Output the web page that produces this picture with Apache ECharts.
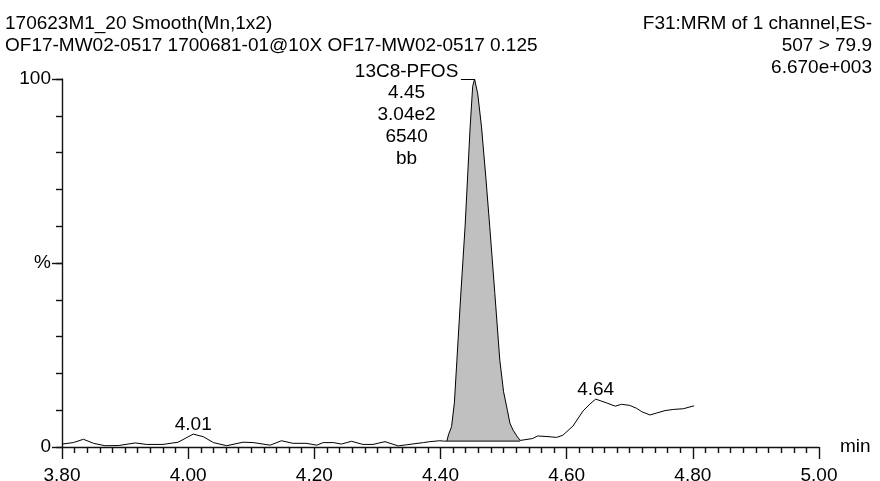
<!DOCTYPE html>
<html><head><meta charset="utf-8">
<script src="https://cdn.jsdelivr.net/npm/echarts@6/dist/echarts.min.js"></script>
<style>html,body{margin:0;padding:0;background:#fff}#c{width:880px;height:481px}</style>
</head><body><div id="c"></div>
<script>
// ---- data ----
const headerLeft = ['170623M1_20 Smooth(Mn,1x2)', 'OF17-MW02-0517 1700681-01@10X OF17-MW02-0517 0.125'];
const headerRight = ['F31:MRM of 1 channel,ES-', '507 > 79.9', '6.670e+003'];

const traceTime = [3.800,3.818,3.834,3.850,3.868,3.890,3.916,3.934,3.960,3.984,4.008,4.024,4.040,4.061,4.087,4.103,4.130,4.148,4.166,4.187,4.204,4.214,4.230,4.243,4.259,4.277,4.293,4.312,4.333,4.346,4.373,4.383,4.399,4.405,
  4.410,4.413,4.4175,4.422,4.426,4.432,4.439,4.447,4.451,4.454,4.459,4.465,4.472,4.478,4.486,4.494,4.500,4.506,4.510,4.515,4.521,4.526,
  4.531,4.546,4.554,4.572,4.584,4.594,4.610,4.626,4.637,4.646,4.653,4.663,4.677,4.687,4.700,4.711,4.719,4.732,4.742,4.756,4.769,4.785,4.802];
const traceIntensity = [0.8,1.2,2.1,1.0,0.35,0.4,1.1,0.7,0.7,1.3,3.5,2.8,1.2,0.35,1.3,1.2,0.5,1.7,1.0,1.0,0.5,1.2,1.2,0.8,1.55,0.7,0.7,1.45,0.3,0.6,1.2,1.45,1.7,1.6,
  1.6,3.5,5.5,12,23.6,41,60,87,98,100,96,87,73,60,42,23.6,15,10,6.5,4.6,3.0,1.8,
  1.9,2.3,3.0,2.8,2.6,3.2,5.7,9.8,11.7,13.0,12.6,12.0,11.1,11.6,11.3,10.5,9.6,8.7,9.2,9.9,10.2,10.4,11.2];

const integrationStart = 4.410;
const integrationEnd = 4.526;
const integrationBaseline = 1.6;

const minorPeakTimes = [4.008, 4.646];
const minorPeakLabels = ['4.01', '4.64'];
const mainPeakTime = 4.454;
const mainPeakLines = ['13C8-PFOS', '4.45', '3.04e2', '6540', 'bb'];
const leaderStartTime = 4.4323;

const xMin = 3.8, xMax = 5.0, xMajorStep = 0.2, xMinorPerMajor = 10;
const yMajorLabels = {0: '0', 50: '%', 100: '100'};
const xAxisName = 'min';

// ---- build ----
const FONT = 'Liberation Sans, Arial, Helvetica, sans-serif';
const FS = 19;
const trace = traceTime.map((t, i) => [t, traceIntensity[i]]);
const peakArea = trace.filter(p => p[0] >= integrationStart - 1e-9 && p[0] <= integrationEnd + 1e-9);
const valueAt = t => traceIntensity[traceTime.indexOf(t)];

const txt = {fontSize: FS, fontWeight: 'normal', color: '#000', fontFamily: FONT};
const titles = [];
headerLeft.forEach((s, i) => titles.push({text: s, left: 5, top: 14 + i * 22, padding: 0, textStyle: txt}));
headerRight.forEach((s, i) => titles.push({text: s, right: 8, top: 14 + i * 22, padding: 0, textStyle: txt}));

const black = {color: '#000', width: 1};
const axisInk = {color: '#111', width: 1.4};
const chart = echarts.init(document.getElementById('c'), null, {renderer: 'canvas'});
chart.setOption({
  animation: false,
  backgroundColor: '#fff',
  title: titles,
  grid: {left: 62, right: 61, top: 79, bottom: 34, containLabel: false, outerBoundsMode: 'none'},
  xAxis: {
    type: 'value', min: xMin, max: xMax, interval: xMajorStep,
    axisLine: {show: true, onZero: false, lineStyle: axisInk},
    axisTick: {show: true, length: 12, lineStyle: axisInk},
    minorTick: {show: true, splitNumber: xMinorPerMajor, length: 6, lineStyle: axisInk},
    splitLine: {show: false}, minorSplitLine: {show: false},
    axisLabel: {formatter: v => v.toFixed(2), margin: 19, fontSize: FS, color: '#000', fontFamily: FONT},
    name: xAxisName, nameLocation: 'end', nameGap: 21,
    nameTextStyle: {fontSize: FS, color: '#000', fontFamily: FONT, align: 'left', verticalAlign: 'middle', padding: [12, 0, 0, 0]}
  },
  yAxis: [
    {
      type: 'value', min: 0, max: 100, interval: 10, position: 'left',
      axisLine: {show: true, lineStyle: axisInk},
      axisTick: {show: true, length: 6, lineStyle: axisInk},
      axisLabel: {show: false}, splitLine: {show: false}
    },
    {
      type: 'value', min: 0, max: 100, interval: 50, position: 'left',
      axisLine: {show: false},
      axisTick: {show: true, length: 10, lineStyle: axisInk},
      axisLabel: {formatter: v => yMajorLabels[v] || '', margin: 11, fontSize: FS, color: '#000', fontFamily: FONT},
      splitLine: {show: false}
    }
  ],
  series: [
    {
      type: 'line', data: peakArea, symbol: 'none', silent: true, z: 1,
      lineStyle: {width: 0},
      areaStyle: {color: '#c0c0c0', opacity: 1, origin: integrationBaseline}
    },
    {
      type: 'line', data: [[integrationStart, integrationBaseline], [integrationEnd, integrationBaseline]],
      symbol: 'none', silent: true, z: 2, lineStyle: black
    },
    {
      type: 'line', data: trace, symbol: 'none', silent: true, z: 3, lineStyle: black,
      markPoint: {
        symbol: 'circle', symbolSize: 0, silent: true,
        data: minorPeakTimes.map((t, i) => ({
          coord: [t, valueAt(t)], name: minorPeakLabels[i],
          label: {show: true, position: 'top', distance: 0, formatter: '{b}', fontSize: FS, color: '#000', fontFamily: FONT}
        })).concat([{
          coord: [mainPeakTime, valueAt(mainPeakTime)], name: mainPeakLines.join('\n'),
          label: {show: true, position: 'inside', offset: [-68, 36], align: 'center', verticalAlign: 'middle',
                  lineHeight: 21.8, formatter: '{b}', fontSize: FS, color: '#000', fontFamily: FONT}
        }])
      },
      markLine: {
        symbol: 'none', silent: true, label: {show: false},
        lineStyle: {color: '#000', width: 1, type: 'solid'},
        data: [[{coord: [leaderStartTime, valueAt(mainPeakTime)]}, {coord: [mainPeakTime, valueAt(mainPeakTime)]}]]
      }
    }
  ]
});
</script></body></html>
